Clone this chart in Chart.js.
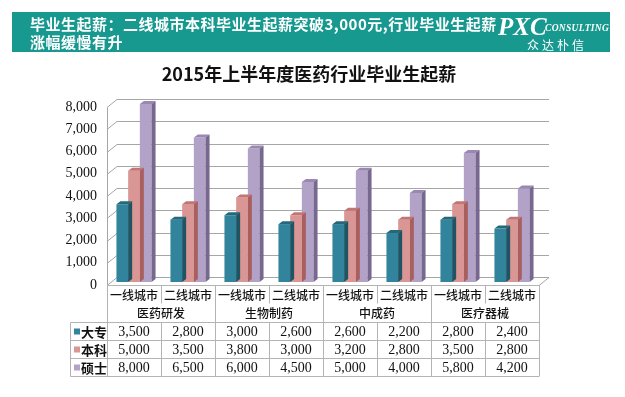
<!DOCTYPE html>
<html>
<head>
<meta charset="utf-8">
<script src="https://cdn.jsdelivr.net/npm/chart.js@4.4.1/dist/chart.umd.min.js"></script>
<style>
  html, body { margin: 0; padding: 0; background: #fff; }
  #wrap { position: relative; width: 625px; height: 397px; overflow: hidden; }
  #chart { position: absolute; left: 0; top: 0; }
  #banner {
    position: absolute; left: 12px; top: 12px; width: 598px; height: 40px;
    background: #17998f; color: #fff;
  }
  #banner .txt {
    position: absolute; left: 18px; top: 3px;
    font: bold 15px "Noto Sans CJK SC", sans-serif; line-height: 18px;
    letter-spacing: 0.5px;
  }
  #banner .pxc {
    position: absolute; left: 486px; top: 1px;
    font: italic bold 25px "Liberation Serif", serif;
  }
  #banner .cons {
    position: absolute; left: 533px; top: 11px;
    font: italic bold 9.5px "Liberation Serif", serif; letter-spacing: 0.3px;
  }
  #banner .cn {
    position: absolute; left: 515px; top: 24px;
    font: 12px "Noto Sans CJK SC", sans-serif; letter-spacing: 3px;
  }
  #title {
    position: absolute; left: 0; width: 618px; top: 60px; text-align: center;
    font: bold 18px "Noto Sans CJK SC", sans-serif; color: #111;
  }
</style>
</head>
<body>
<div id="wrap">
  <canvas id="chart" width="625" height="397"></canvas>
  <div id="banner">
    <div class="txt">毕业生起薪：二线城市本科毕业生起薪突破3,000元,行业毕业生起薪<br>涨幅缓慢有升</div>
    <div class="pxc">PXC</div>
    <div class="cons">CONSULTING</div>
    <div class="cn">众达朴信</div>
  </div>
  <div id="title">2015年上半年度医药行业毕业生起薪</div>
</div>
<script>
// ---- data ----
const categories = ["一线城市", "二线城市", "一线城市", "二线城市", "一线城市", "二线城市", "一线城市", "二线城市"];
const groupLabels = ["医药研发", "生物制药", "中成药", "医疗器械"];
const seriesNames = ["大专", "本科", "硕士"];
const dazhuan = [3500, 2800, 3000, 2600, 2600, 2200, 2800, 2400];
const benke = [5000, 3500, 3800, 3000, 3200, 2800, 3500, 2800];
const shuoshi = [8000, 6500, 6000, 4500, 5000, 4000, 5800, 4200];
const yTicks = [0, 1000, 2000, 3000, 4000, 5000, 6000, 7000, 8000];
const yTickLabels = ["0", "1,000", "2,000", "3,000", "4,000", "5,000", "6,000", "7,000", "8,000"];

const COLORS = ["#31849b", "#da9694", "#b3a2c7"];
const TOP_COLORS = ["#23687b", "#c27573", "#9a88b3"];
const SIDE_COLORS = ["#1d5565", "#a85f5d", "#77688f"];
const GRID = "#a6a6a6";
const DEPTH_X = 10, DEPTH_BACK = 5, DEPTH_FRONT = 3;
const BAR_D = 4;

const num = v => v.toLocaleString("en-US");

/* -------------------- 3D WALLS / GRID -------------------- */
const wallsPlugin = {
  id: "walls",
  beforeDatasetsDraw(chart) {
    const { ctx, chartArea: a, scales: { y } } = chart;
    ctx.save();
    ctx.strokeStyle = GRID;
    ctx.lineWidth = 1;
    yTicks.forEach(v => {
      const py = Math.round(y.getPixelForValue(v)) + 0.5;
      ctx.beginPath();
      ctx.moveTo(a.left, py + DEPTH_FRONT);
      ctx.lineTo(a.left + DEPTH_X, py - DEPTH_BACK);
      ctx.lineTo(a.right + DEPTH_X, py - DEPTH_BACK);
      ctx.stroke();
    });
    const y0 = Math.round(y.getPixelForValue(0)) + 0.5;
    const yTop = Math.round(y.getPixelForValue(8000)) + 0.5;
    ctx.beginPath();
    ctx.moveTo(a.left + 0.5, yTop + DEPTH_FRONT);
    ctx.lineTo(a.left + 0.5, y0 + DEPTH_FRONT);
    ctx.lineTo(a.right, y0 + DEPTH_FRONT);
    ctx.lineTo(a.right + DEPTH_X, y0 - DEPTH_BACK);
    ctx.stroke();
    // tick labels
    ctx.fillStyle = "#111";
    ctx.font = "14px 'Liberation Serif', serif";
    ctx.textAlign = "right";
    ctx.textBaseline = "middle";
    yTicks.forEach((v, i) => {
      ctx.fillText(yTickLabels[i], a.left - 10, y.getPixelForValue(v) + DEPTH_FRONT);
    });
    ctx.restore();
  },
  afterDatasetDraw(chart, args) {
    const { ctx } = chart;
    const i = args.index;
    ctx.save();
    args.meta.data.forEach(bar => {
      const l = bar.x - bar.width / 2, r = bar.x + bar.width / 2;
      const t = bar.y, b = bar.base;
      ctx.fillStyle = TOP_COLORS[i];
      ctx.beginPath();
      ctx.moveTo(l, t);
      ctx.lineTo(r, t);
      ctx.lineTo(r + BAR_D, t - BAR_D + 1);
      ctx.lineTo(l + BAR_D, t - BAR_D + 1);
      ctx.closePath();
      ctx.fill();
      ctx.fillStyle = SIDE_COLORS[i];
      ctx.beginPath();
      ctx.moveTo(r, t);
      ctx.lineTo(r + BAR_D, t - BAR_D + 1);
      ctx.lineTo(r + BAR_D, b - BAR_D + 1);
      ctx.lineTo(r, b);
      ctx.closePath();
      ctx.fill();
    });
    ctx.restore();
  }
};

/* -------------------- DATA TABLE -------------------- */
const tablePlugin = {
  id: "dataTable",
  afterDraw(chart) {
    const { ctx, chartArea: a, scales: { x, y } } = chart;
    const catW = (a.right - a.left) / categories.length;
    const top = Math.round(y.getPixelForValue(0)) + DEPTH_FRONT + 0.5;
    const subH = 18, grpH = 19, rowH = 18;
    const rowsTop = top + subH + grpH;
    const bottom = rowsTop + rowH * seriesNames.length;
    const legendLeft = 70.5;
    ctx.save();
    ctx.strokeStyle = "#b4b4b4";
    ctx.lineWidth = 1;
    ctx.beginPath();
    ctx.moveTo(a.left, top); ctx.lineTo(a.right, top);
    for (let r = 0; r <= seriesNames.length; r++) {
      const py = rowsTop + r * rowH;
      ctx.moveTo(legendLeft, py); ctx.lineTo(a.right, py);
    }
    ctx.moveTo(legendLeft, rowsTop); ctx.lineTo(legendLeft, bottom);
    for (let c = 0; c <= categories.length; c++) {
      const px = Math.round(a.left + c * catW) + 0.5;
      if (c % 2 === 0) {
        ctx.moveTo(px, top); ctx.lineTo(px, bottom);
      } else {
        ctx.moveTo(px, top); ctx.lineTo(px, top + subH);
        ctx.moveTo(px, rowsTop); ctx.lineTo(px, bottom);
      }
    }
    ctx.stroke();

    ctx.fillStyle = "#111";
    ctx.textAlign = "center";
    ctx.textBaseline = "middle";
    ctx.font = "500 12px 'Noto Sans CJK SC', sans-serif";
    categories.forEach((c, i) => {
      ctx.fillText(c, x.getPixelForValue(i), top + subH / 2 + 1);
    });
    groupLabels.forEach((g, i) => {
      const cx = (x.getPixelForValue(i * 2) + x.getPixelForValue(i * 2 + 1)) / 2;
      ctx.fillText(g, cx, top + subH + grpH / 2);
    });
    const series = [dazhuan, benke, shuoshi];
    series.forEach((vals, r) => {
      const cy = rowsTop + r * rowH + rowH / 2 + 1;
      ctx.font = "bold 13px 'Noto Sans CJK SC', sans-serif";
      ctx.textAlign = "left";
      ctx.fillStyle = COLORS[r];
      ctx.fillRect(74, cy - 4, 6, 6);
      ctx.fillStyle = "#111";
      ctx.fillText(seriesNames[r], 81, cy);
      ctx.font = "14px 'Liberation Serif', serif";
      ctx.textAlign = "center";
      vals.forEach((v, i) => ctx.fillText(num(v), x.getPixelForValue(i), cy));
    });
    ctx.restore();
  }
};

new Chart(document.getElementById("chart"), {
  type: "bar",
  data: {
    labels: categories,
    datasets: seriesNames.map((name, i) => ({
      label: name,
      data: [dazhuan, benke, shuoshi][i],
      backgroundColor: COLORS[i],
      borderWidth: 0,
      categoryPercentage: 0.65,
      barPercentage: 1
    }))
  },
  options: {
    responsive: false,
    animation: false,
    layout: { padding: { left: 107, right: 86, top: 104, bottom: 115 } },
    scales: {
      x: { display: false },
      y: { display: false, min: 0, max: 8000 }
    },
    plugins: { legend: { display: false }, title: { display: false }, tooltip: { enabled: false } }
  },
  plugins: [wallsPlugin, tablePlugin]
});
</script>
</body>
</html>
